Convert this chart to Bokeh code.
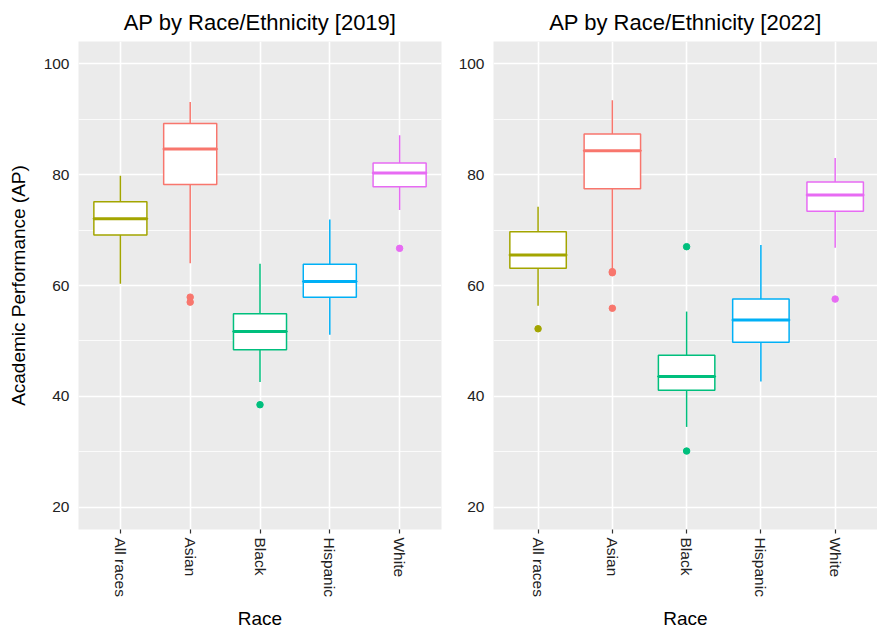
from bokeh.plotting import figure
from bokeh.layouts import row
from bokeh.models import ColumnDataSource, Range1d, FixedTicker
from bokeh.embed import file_html
from bokeh.resources import INLINE

races = ["All races", "Asian", "Black", "Hispanic", "White"]
colors = ["#A3A500", "#F8766D", "#00BF7D", "#00B0F6", "#E76BF3"]

# 2019
lo_2019 = [60.3, 64.0, 42.6, 51.1, 73.6]
q1_2019 = [69.1, 78.2, 48.4, 57.9, 77.8]
med_2019 = [72.05, 84.6, 51.7, 60.7, 80.3]
q3_2019 = [75.1, 89.2, 54.9, 63.85, 82.1]
hi_2019 = [79.8, 93.1, 63.9, 71.9, 87.1]
out_race_2019 = ["Asian", "Asian", "Black", "White"]
out_val_2019 = [57.9, 57.0, 38.5, 66.7]

# 2022
lo_2022 = [56.35, 62.9, 34.5, 42.7, 66.8]
q1_2022 = [63.1, 77.45, 41.1, 49.75, 73.4]
med_2022 = [65.5, 84.3, 43.6, 53.8, 76.3]
q3_2022 = [69.7, 87.3, 47.4, 57.55, 78.65]
hi_2022 = [74.2, 93.4, 55.3, 67.3, 83.0]
out_race_2022 = ["All races", "Asian", "Asian", "Asian", "Black", "Black", "White"]
out_val_2022 = [52.2, 62.3, 62.5, 55.9, 67.0, 30.15, 57.55]

y_ticks = [20, 40, 60, 80, 100]
y_minor = [30, 50, 70, 90]

FONT = "Liberation Sans"
BOX_W = 0.76


def make_panel(title, lo, q1, med, q3, hi, out_race, out_val, width, x_end,
               left_border, right_border, show_ylabel):
    xs = [races.index(r) + 1 for r in races]
    src = ColumnDataSource(dict(x=xs, lo=lo, q1=q1, med=med, q3=q3, hi=hi,
                                color=colors))
    osrc = ColumnDataSource(dict(x=[races.index(r) + 1 for r in out_race],
                                 y=out_val,
                                 color=[colors[races.index(r)] for r in out_race]))
    p = figure(width=width, height=631, output_backend="svg",
               toolbar_location=None,
               x_range=Range1d(0.4, x_end), y_range=Range1d(16.0, 104.0),
               min_border_left=left_border, min_border_right=right_border,
               min_border_top=41, min_border_bottom=101)
    p.title.text = title
    p.title.align = "center"
    p.title.text_font = FONT
    p.title.text_font_size = "22px"
    p.title.text_font_style = "normal"
    p.title.text_color = "#000000"
    p.title.standoff = 13

    p.background_fill_color = "#EBEBEB"
    p.border_fill_color = "white"
    p.outline_line_color = None

    # grid
    p.xgrid.ticker = FixedTicker(ticks=xs)
    p.xgrid.grid_line_color = "white"
    p.xgrid.grid_line_width = 1.6
    p.ygrid.ticker = FixedTicker(ticks=y_ticks, minor_ticks=y_minor)
    p.ygrid.grid_line_color = "white"
    p.ygrid.grid_line_width = 1.6
    p.ygrid.minor_grid_line_color = "white"
    p.ygrid.minor_grid_line_width = 0.8

    # axes
    p.xaxis.ticker = FixedTicker(ticks=xs)
    p.xaxis.major_label_overrides = {x: r for x, r in zip(xs, races)}
    p.xaxis.major_label_orientation = "vertical"
    p.xaxis.axis_line_color = None
    p.xaxis.major_tick_line_color = "#333333"
    p.xaxis.major_tick_line_width = 1.2
    p.xaxis.major_tick_out = 4
    p.xaxis.major_tick_in = 0
    p.xaxis.minor_tick_line_color = None
    p.xaxis.major_label_standoff = 4
    p.xaxis.major_label_text_font = FONT
    p.xaxis.major_label_text_font_size = "15.5px"
    p.xaxis.major_label_text_color = "#222222"
    p.xaxis.axis_label = "Race"
    p.xaxis.axis_label_text_font = FONT
    p.xaxis.axis_label_text_font_size = "19px"
    p.xaxis.axis_label_text_font_style = "normal"
    p.xaxis.axis_label_text_color = "#000000"
    p.xaxis.axis_label_standoff = 8

    p.yaxis.ticker = FixedTicker(ticks=y_ticks)
    p.yaxis.axis_line_color = None
    p.yaxis.major_tick_line_color = None
    p.yaxis.minor_tick_line_color = None
    p.yaxis.major_tick_out = 3
    p.yaxis.major_label_standoff = 6
    p.yaxis.major_label_text_font = FONT
    p.yaxis.major_label_text_font_size = "15.5px"
    p.yaxis.major_label_text_color = "#222222"
    if show_ylabel:
        p.yaxis.axis_label = "Academic Performance (AP)"
        p.yaxis.axis_label_text_font = FONT
        p.yaxis.axis_label_text_font_size = "19px"
        p.yaxis.axis_label_text_font_style = "normal"
        p.yaxis.axis_label_text_color = "#000000"
        p.yaxis.axis_label_standoff = 12

    # whiskers
    p.segment(x0="x", y0="q3", x1="x", y1="hi", line_color="color",
              line_width=1.5, source=src)
    p.segment(x0="x", y0="lo", x1="x", y1="q1", line_color="color",
              line_width=1.5, source=src)
    # boxes
    p.vbar(x="x", width=BOX_W, bottom="q1", top="q3", fill_color="white",
           line_color="color", line_width=1.5, source=src)
    # medians
    p.rect(x="x", y="med", width=BOX_W, height=0.0001, line_color="color",
           line_width=3, fill_color=None, source=src)
    # outliers
    p.scatter(x="x", y="y", size=6.5, fill_color="color", line_color="color",
              source=osrc)
    return p


p1 = make_panel("AP by Race/Ethnicity [2019]", lo_2019, q1_2019, med_2019,
                q3_2019, hi_2019, out_race_2019, out_val_2019,
                width=448, x_end=5.6, left_border=78, right_border=7,
                show_ylabel=True)
p2 = make_panel("AP by Race/Ethnicity [2022]", lo_2022, q1_2022, med_2022,
                q3_2022, hi_2022, out_race_2022, out_val_2022,
                width=429, x_end=5.57, left_border=45, right_border=0,
                show_ylabel=False)

p = row(p1, p2)
open("out.html", "w").write(file_html(p, INLINE))
